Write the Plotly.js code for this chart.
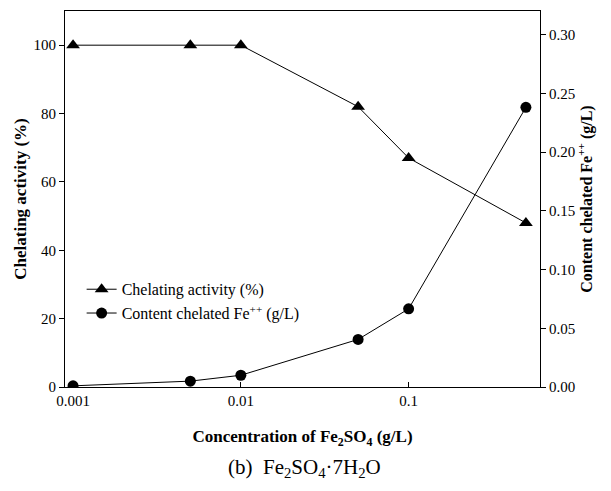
<!DOCTYPE html>
<html><head><meta charset="utf-8">
<script src="https://cdn.plot.ly/plotly-3.0.1.min.js"></script>
<style>html,body{margin:0;padding:0;background:#fff}#chart{width:611px;height:491px}</style>
</head><body><div id="chart"></div>
<script>
const concentration = [0.001, 0.005, 0.01, 0.05, 0.1, 0.5];
const chelatingActivity = [100, 100, 100, 82, 67, 48];
const contentFe = [0.001, 0.005, 0.01, 0.0405, 0.0665, 0.238];
const xTickVals = [0.001, 0.01, 0.1];
const xTickText = ['0.001', '0.01', '0.1'];
const yLeftTicks = [0, 20, 40, 60, 80, 100];
const yRightTicks = [0, 0.05, 0.10, 0.15, 0.20, 0.25, 0.30];

const font = 'Liberation Serif';
const traces = [
  {x: concentration, y: chelatingActivity, name: 'Chelating activity (%)', type: 'scatter', mode: 'lines+markers',
   line: {color: '#000', width: 1}, marker: {symbol: 'triangle-up', size: 12, color: '#000'}},
  {x: concentration, y: contentFe, name: 'Content chelated Fe<sup>++</sup> (g/L)', type: 'scatter', mode: 'lines+markers', yaxis: 'y2',
   line: {color: '#000', width: 1}, marker: {symbol: 'circle', size: 11, color: '#000'}}
];
const layout = {
  width: 611, height: 491,
  margin: {l: 65, r: 70.5, t: 11, b: 103.5},
  paper_bgcolor: '#fff', plot_bgcolor: '#fff',
  font: {family: font, size: 15, color: '#000'},
  showlegend: true,
  legend: {x: 0.035, y: 0.305, xanchor: 'left', yanchor: 'top', bgcolor: 'rgba(0,0,0,0)',
           font: {family: font, size: 16, color: '#000'}, tracegroupgap: 0},
  xaxis: {type: 'log', range: [-3.048, -0.217], tickvals: xTickVals, ticktext: xTickText,
          ticks: 'inside', ticklen: 5, tickcolor: '#000', showgrid: false, zeroline: false,
          showline: true, linecolor: '#000', linewidth: 1, mirror: true,
          tickfont: {family: font, size: 15},
          title: {text: '<b>Concentration of Fe<sub>2</sub>SO<sub>4</sub> (g/L)</b>', font: {family: font, size: 17}, standoff: 22}},
  yaxis: {range: [0, 110], tickvals: yLeftTicks, ticks: 'outside', ticklen: 5, tickcolor: '#000',
          showgrid: false, zeroline: false, showline: true, linecolor: '#000', linewidth: 1,
          tickfont: {family: font, size: 15},
          title: {text: '<b>Chelating activity (%)</b>', font: {family: font, size: 17}, standoff: 2}},
  yaxis2: {range: [0, 0.32], overlaying: 'y', side: 'right', tickvals: yRightTicks, tickformat: '.2f',
           ticks: 'outside', ticklen: 5, tickcolor: '#000', showgrid: false, zeroline: false,
           showline: true, linecolor: '#000', linewidth: 1, tickfont: {family: font, size: 15},
           title: {text: '<b>Content chelated Fe<sup>++</sup> (g/L)</b>', font: {family: font, size: 16}, standoff: 5}},
  annotations: [{text: '(b)  Fe<sub>2</sub>SO<sub>4</sub>·7H<sub>2</sub>O', xref: 'paper', yref: 'paper',
                 x: 0.505, y: -0.175, yanchor: 'top', xanchor: 'center', showarrow: false, font: {family: font, size: 21, color: '#000'}}]
};
Plotly.newPlot('chart', traces, layout, {staticPlot: true, displayModeBar: false});
</script></body></html>
